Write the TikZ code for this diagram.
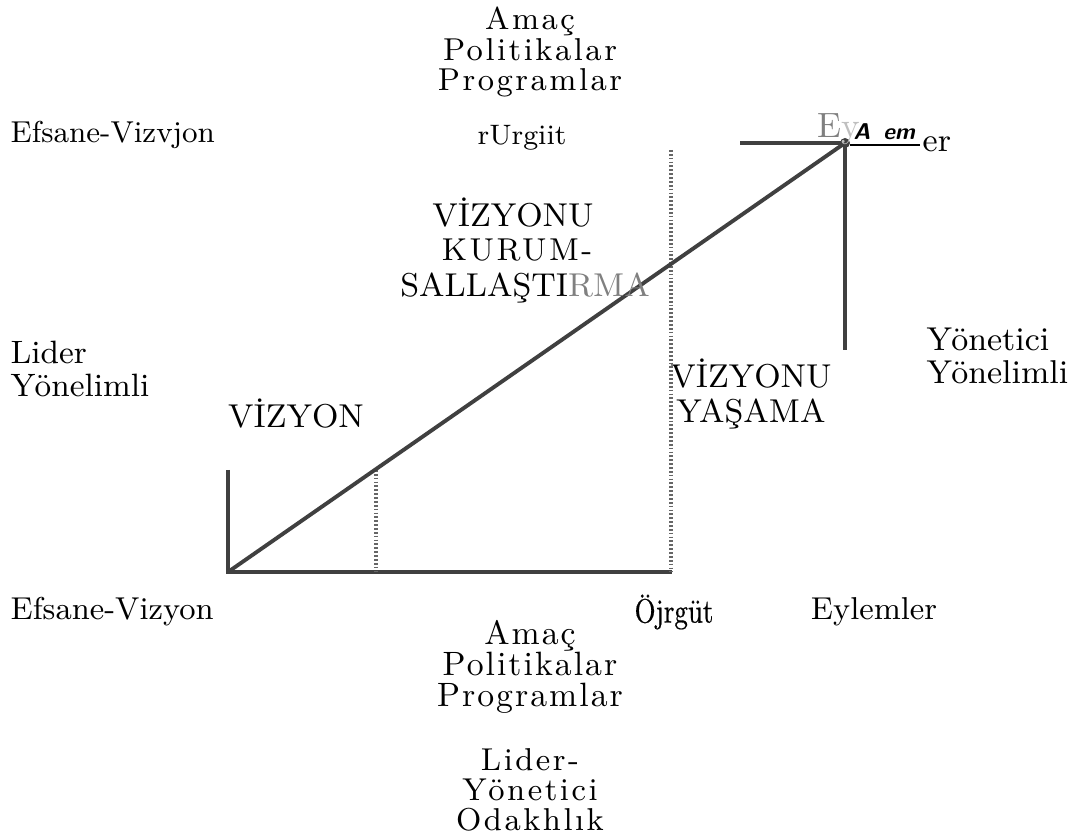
\documentclass[tikz,border=0pt]{standalone}
\usepackage{fontspec}
\setmainfont{Latin Modern Roman}
\usepackage{xcolor}

\begin{document}
\begin{tikzpicture}[
            axis/.style={color=black!75, line width=1.1pt},
            guide/.style={color=black!60, line width=1.2pt, dash pattern=on 0.5pt off 0.6pt},
            label/.style={align=center, color=black, font=\fontsize{9}{8.6}\selectfont, inner sep=0pt},
            spaced/.style={align=center, color=black, font=\fontsize{9}{8.6}\selectfont\addfontfeatures{LetterSpace=8}, inner sep=0pt},
            caps/.style={align=center, color=black, font=\fontsize{9.4}{10.2}\selectfont, inner sep=0pt}
        ]
            \useasboundingbox (0, 0) rectangle (10.69, 8.38);

            % axes
            \draw[axis] (2.28, 3.68) -- (2.28, 2.66) -- (6.72, 2.66);
            \draw[axis] (7.40, 6.95) -- (8.45, 6.95) -- (8.45, 4.88);

            % stages
            \draw[guide] (3.76, 3.68) -- (3.76, 2.66);
            \draw[guide] (6.71, 6.88) -- (6.71, 2.66);

            % diagonal
            \draw[axis] (2.28, 2.66) -- (8.45, 6.95);
            \fill[black!75] (8.45, 6.95) circle (0.05);

            % top labels
            \node[spaced] (topfocus) at (5.30, 7.86) {Amaç\\Politikalar\\Programlar};
            \node[label, anchor=west, font=\fontsize{8.6}{9}\selectfont] (topmyth) at (0.10, 7.03) {Efsane-Vizvjon};
            \node[label, font=\fontsize{8}{9}\selectfont] (toporg) at (5.22, 7.00) {rUrgiit};
            \node[label, anchor=base west, color=black!50, font=\fontsize{10}{10}\selectfont] (topact) at (8.17, 7.00) {E\textcolor{black!25}{y}};
            \node[label, anchor=base west, font=\sffamily\bfseries\itshape\fontsize{6.5}{7}\selectfont] (topactb) at (8.49, 6.98) {\underline{\hspace{0.04cm}A\hspace{0.13cm}em\hspace{0.05cm}}};
            \node[label, anchor=base west, font=\fontsize{9.4}{10}\selectfont] (topacte) at (9.22, 6.86) {er};

            % stage labels
            \node[caps] (stagetwo) at (5.13, 6.25) {VİZYONU};
            \node[spaced] (stagetwob) at (5.17, 5.88) {KURUM-};
            \node[caps] (stagetwoc) at (5.25, 5.50) {SALLAŞTI\textcolor{black!50}{RMA}};
            \node[caps] (stageone) at (2.96, 4.24) {VİZYON};
            \node[caps] (stagethree) at (7.51, 4.44) {VİZYONU\\YAŞAMA};

            % side labels
            \node[label, anchor=west, align=left, font=\fontsize{9.2}{9.6}\selectfont] (leader) at (0.10, 4.69) {Lider\\Yönelimli};
            \node[label, anchor=west, align=left, font=\fontsize{9.4}{9.6}\selectfont] (manager) at (9.26, 4.82) {Yönetici\\Yönelimli};

            % bottom labels
            \node[label, anchor=west] (botmyth) at (0.10, 2.26) {Efsane-Vizyon};
            \node[label, font=\fontsize{9.6}{10}\selectfont\addfontfeatures{FakeStretch=0.8,FakeBold=0.5}] (botorg) at (6.74, 2.26) {Öjrgüt};
            \node[label] (botact) at (8.74, 2.26) {Eylemler};
            \node[spaced, font=\fontsize{9.6}{8.8}\selectfont\addfontfeatures{LetterSpace=6}] (botfocus) at (5.30, 1.71) {Amaç\\Politikalar\\Programlar};
            \node[spaced] (focus) at (5.30, 0.48) {Lider-\\Yönetici\\Odakhlık};

        \end{tikzpicture}
\end{document}
